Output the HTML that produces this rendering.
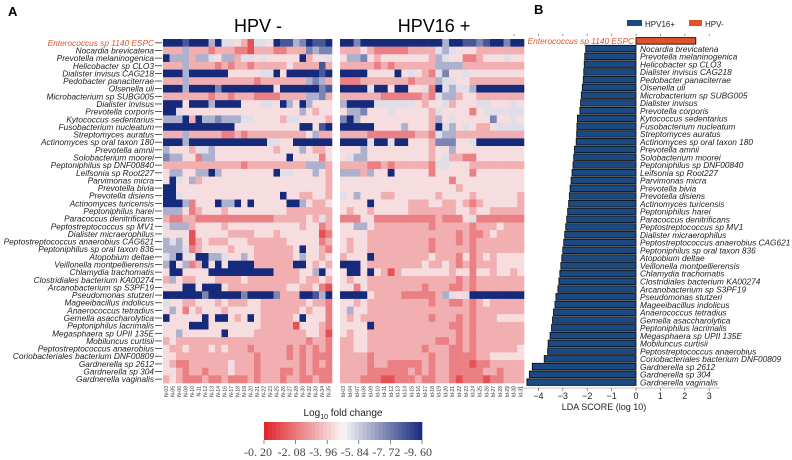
<!DOCTYPE html>
<html><head><meta charset="utf-8"><style>
html,body{margin:0;padding:0;background:#fff;}
svg{display:block;font-family:"Liberation Sans",Arial,sans-serif;}
</style></head><body>
<svg id="fig" width="792" height="460" viewBox="0 0 792 460" xmlns="http://www.w3.org/2000/svg">
<text x="8" y="16" font-size="13" font-weight="bold">A</text>
<text x="534" y="14" font-size="13" font-weight="bold">B</text>
<text x="258" y="32" font-size="18" text-anchor="middle">HPV -</text>
<text x="434" y="32" font-size="18" text-anchor="middle">HPV16 +</text>
<g id="heat"></g>
<g id="cbar"></g>
<g id="lda"></g>
</svg>
<script>
const species=["Enterococcus sp 1140 ESPC","Nocardia brevicatena","Prevotella melaninogenica","Helicobacter sp CLO3","Dialister invisus CAG218","Pedobacter panaciterrae","Olsenella uli","Microbacterium sp SUBG005","Dialister invisus","Prevotella corporis","Kytococcus sedentarius","Fusobacterium nucleatum","Streptomyces auratus","Actinomyces sp oral taxon 180","Prevotella amnii","Solobacterium moorei","Peptoniphilus sp DNF00840","Leifsonia sp Root227","Parvimonas micra","Prevotella bivia","Prevotella disiens","Actinomyces turicensis","Peptoniphilus harei","Paracoccus denitrificans","Peptostreptococcus sp MV1","Dialister micraerophilus","Peptostreptococcus anaerobius CAG621","Peptoniphilus sp oral taxon 836","Atopobium deltae","Veillonella montpellierensis","Chlamydia trachomatis","Clostridiales bacterium KA00274","Arcanobacterium sp S3PF19","Pseudomonas stutzeri","Mageeibacillus indolicus","Anaerococcus tetradius","Gemella asaccharolytica","Peptoniphilus lacrimalis","Megasphaera sp UPII 135E","Mobiluncus curtisii","Peptostreptococcus anaerobius","Coriobacteriales bacterium DNF00809","Gardnerella sp 2612","Gardnerella sp 304","Gardnerella vaginalis"];
const negSamples=["N-03","N-05","N-06","N-08","N-10","N-11","N-12","N-13","N-14","N-16","N-17","N-18","N-19","N-20","N-21","N-22","N-23","N-25","N-26","N-27","N-28","N-30","N-32","N-33","N-34","N-35"];
const posSamples=["Id-03","Id-04","Id-07","Id-08","Id-09","Id-10","Id-11","Id-12","Id-13","Id-14","Id-15","Id-16","Id-17","Id-18","Id-19","Id-20","Id-21","Id-22","Id-23","Id-24","Id-25","Id-26","Id-27","Id-28","Id-29","Id-30","Id-31"];
const negLevels=["99989996955431554988679889","33363332333221333223337677","96663665466355454444493445","33363333232332333334333383","99969999994444455949999989","33363333333333233333336763","99969999799999999499999978","33333332332333222233336673","99949996999944455496496444","99544444444444444444464344","66693966766655444435544443","99999999999444444444499489","33363333322323333333334633","99969999999999995544999999","64443556444444444344464334","76644266444444444449444424","33333333333323333333336663","46644669644444444955444643","49546344444444444444444443","99444444444444444444444443","99544444444444444494433443","99962444966949444449964334","66642344434444444443333333","32233222222222222333334353","56663444434444444444434423","44441444443333444344444412","65641343334443333334444423","66652344443444333333494432","56944996654464333333464434","69462394949999333333994343","49944449999999999333344694","36433444333343333333343343","44499499943333333334433421","99999979999979999733399869","54433444343334433333334332","46424344434444433333343442","94444494994349433333494442","44449994444444433333144432","44644444494444333333334431","34333333333333333333332332","43343334343332333332323232","44333333333333233332323222","43223333334333233333323232","44323323334333233322323222","34322232232223233323322322"];
const posLevels=["997999999999999699887899799","333432222233335654443333333","466743444444436544223444544","333332323333336666333333333","999944449454325744544444444","222333333323336554433333333","999959949944529565569999999","333333222222325663443333333","699995555554344534445544454","466744454444435444424555555","796444444444436454444474454","999994444644439564543345555","333322222223325663333333333","999959959944437774459999999","444644444444434464444444444","456644444444434533224444444","333322323333325544433333333","666364494444424444424444444","444444444444444424444444444","444444444444444443444444444","546444334444443444434444443","444494444433344334323444443","434434444433333334434433333","222442222222223222452222222","446643333333323333323334333","444433333333333332322343333","434433333333323332323333333","434433333333323333323333333","344493333333343332423434444","999433333333433432323334444","499494313444444434424434434","434433333333333332323333333","442433333333233322323333333","999943333222223654599999999","443433333333323322323433333","464433333333333333323333333","434333333333323332323334444","444493333333333322323333333","434433333333333332323333333","334433333333332232323333333","334433333333233322323333334","333323333333323322223344444","333323322222323322212233333","333322222232323322222332333","333222112223223321222122333"];
const scaleTicks=["-0. 20","-2. 08","-3. 96","-5. 84","-7. 72","-9. 60"];
const ldaScores=[2.45,-2.06,-2.1,-2.12,-2.14,-2.16,-2.2,-2.24,-2.27,-2.3,-2.4,-2.42,-2.43,-2.45,-2.52,-2.55,-2.58,-2.62,-2.66,-2.7,-2.73,-2.76,-2.8,-2.84,-2.88,-2.92,-2.96,-3.0,-3.04,-3.08,-3.12,-3.16,-3.2,-3.28,-3.32,-3.38,-3.42,-3.46,-3.52,-3.6,-3.62,-3.76,-4.25,-4.37,-4.47];
const ldaTicks=[-4,-3,-2,-1,0,1,2,3];

const NS="http://www.w3.org/2000/svg";
function mk(tag,attrs,parent){const e=document.createElementNS(NS,tag);for(const k in attrs)e.setAttribute(k,attrs[k]);parent.appendChild(e);return e;}
function levelToVal(d){return -0.2-d*(9.4/9);}
function valColor(v){
  const t=(-0.2-v)/9.4;
  const R=[224,34,40],W=[249,245,247],B=[22,42,124];
  let a,b,u; if(t<0.5){a=R;b=W;u=t/0.5;}else{a=W;b=B;u=(t-0.5)/0.5;}
  return "rgb("+a.map((c,i)=>Math.round(c+(b[i]-c)*u)).join(",")+")";
}
const hTop=39,rowH=344/species.length;
function yRow(i){return hTop+i*rowH;}
const heat=document.getElementById('heat');
const negX0=163,negW=(332-163)/negSamples.length,posX0=340,posW=(524-340)/posSamples.length;
function drawBlock(levels,samples,x0,w){
  levels.forEach((row,i)=>{
    for(let j=0;j<samples.length;j++){
      const d=+(row[j]||'4');
      const r=mk('rect',{x:(x0+j*w).toFixed(2),y:yRow(i).toFixed(2),width:(w+0.3).toFixed(2),height:(rowH+0.3).toFixed(2),fill:valColor(levelToVal(d))},heat);
      
      
    }
  });
  samples.forEach((s,j)=>{
    const cx=x0+j*w+w/2;
    const t=mk('text',{x:0,y:0,'font-size':5,transform:`translate(${(cx+1.8).toFixed(1)},386) rotate(-90)`,'text-anchor':'end',fill:'#333'},heat);
    t.textContent=s;
    
    
  });
}
drawBlock(negLevels,negSamples,negX0,negW);
drawBlock(posLevels,posSamples,posX0,posW);
species.forEach((s,i)=>{
  const cy=yRow(i)+rowH/2;
  mk('line',{x1:155,x2:162,y1:cy,y2:cy,stroke:'#333','stroke-width':0.8},heat);
  const t=mk('text',{x:154,y:cy+3,'font-size':8.3,'font-style':'italic','text-anchor':'end',fill:i===0?'#e0522a':'#222'},heat);
  t.textContent=s;
  
  
});
const cb=document.getElementById('cbar');
const cbx0=264,cbx1=422,nSeg=40;
for(let k=0;k<nSeg;k++){
  const v=-0.2-(k+0.5)/nSeg*9.4;
  const r=mk('rect',{x:cbx0+k*(cbx1-cbx0)/nSeg,y:422,width:(cbx1-cbx0)/nSeg+0.3,height:18,fill:valColor(v)},cb);
  
  
}
const ct=mk('text',{x:343,y:416,'font-size':10,'text-anchor':'middle',fill:'#222'},cb);
const ts1=mk('tspan',{},ct);ts1.textContent='Log';
const ts2=mk('tspan',{'font-size':7,dy:3},ct);ts2.textContent='10';
const ts3=mk('tspan',{dy:-3},ct);ts3.textContent=' fold change';


scaleTicks.forEach((s,k)=>{
  const x=cbx0+(k/(scaleTicks.length-1))*(cbx1-cbx0);
  mk('line',{x1:x,x2:x,y1:440,y2:444,stroke:'#555','stroke-width':0.7},cb);
  const t=mk('text',{x:x-4+(k===0?-2:0),y:456,'font-size':12,'text-anchor':'middle','font-family':'"Liberation Serif",serif',fill:'#444'},cb);
  t.textContent=s;
  
  
});
const lda=document.getElementById('lda');
const x0=636,ux=24.4;
function xs(v){return x0+v*ux;}
const btop=37,bRowH=(386-37)/species.length;
mk('line',{x1:505,x2:720,y1:388,y2:388,stroke:'#888','stroke-width':0.6},lda);
for(let v=-5;v<=3;v++){mk('line',{x1:xs(v),x2:xs(v),y1:btop-3,y2:btop-1,stroke:'#666','stroke-width':0.7},lda);}
ldaTicks.forEach(v=>{
  mk('line',{x1:xs(v),x2:xs(v),y1:388,y2:391,stroke:'#666','stroke-width':0.7},lda);
  const t=mk('text',{x:xs(v),y:399,'font-size':9,'text-anchor':'middle',fill:'#222'},lda);
  t.textContent=(v<0?'\u2212'+(-v):String(v));
  
  
});
const at=mk('text',{x:604,y:410,'font-size':9,'text-anchor':'middle',fill:'#222'},lda);
at.textContent='LDA SCORE (log 10)';


species.forEach((s,i)=>{
  const v=ldaScores[i];
  const y=btop+i*bRowH+0.6;
  const xa=Math.min(xs(0),xs(v)),w=Math.abs(xs(v)-xs(0));
  const b=mk('rect',{x:xa,y:y,width:w,height:bRowH-1.2,fill:v>0?'#e0522a':'#1b4a82',stroke:'#111','stroke-width':0.9},lda);
  
  
  const t=mk('text',{x:v>0?xs(0)-2:xs(0)+4,y:y+bRowH/2+2.6,'font-size':8.3,'font-style':'italic','text-anchor':v>0?'end':'start',fill:v>0?'#e0522a':'#222'},lda);
  t.textContent=s;
  
  
});
const lg1=mk('rect',{x:627,y:20,width:15,height:6,fill:'#1b4a82'},lda);


const lt1=mk('text',{x:645,y:27,'font-size':8,fill:'#222'},lda);lt1.textContent='HPV16+';


const lg2=mk('rect',{x:689,y:20,width:13,height:6,fill:'#e0522a'},lda);


const lt2=mk('text',{x:705,y:27,'font-size':8,fill:'#222'},lda);lt2.textContent='HPV-';


</script>
</body></html>
